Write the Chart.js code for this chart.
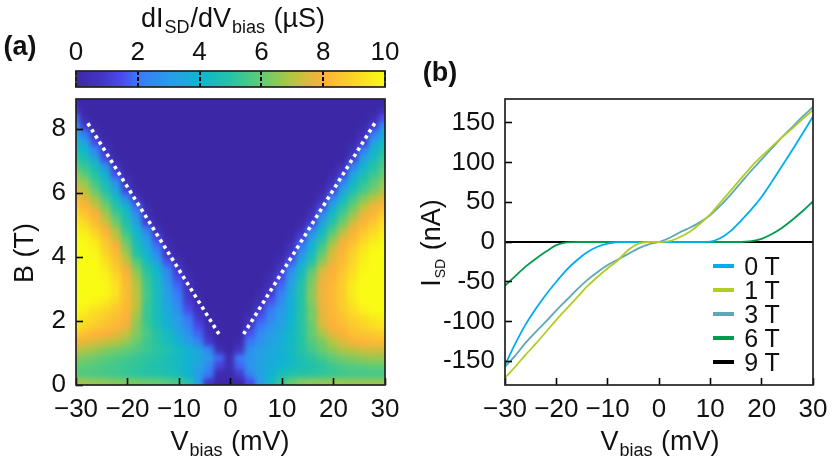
<!DOCTYPE html>
<html>
<head>
<meta charset="utf-8">
<script src="https://cdn.jsdelivr.net/npm/chart.js@4"></script>
<style>
body { margin: 0; background: #fff; }
#page { position: relative; width: 832px; height: 461px; overflow: hidden; font-family: "Liberation Sans", Arial, sans-serif; color: #111; }
canvas { position: absolute; left: 0; top: 0; }
.t { position: absolute; font-size: 27px; white-space: nowrap; transform: translate(-50%, -50%); }
.t b { font-size: 27px; }
.t span { font-size: 18px; position: relative; top: 6px; margin: 0 1px; }
.t span.small { font-size: 14px; top: 5px; }
.t.lg { font-size: 25px; }
.rot { transform: translate(-50%, -50%) rotate(-90deg); }
.key { position: absolute; left: 713px; width: 21px; height: 4px; }
</style>
</head>
<body>
<div id="page">
  <canvas id="bar" width="832" height="461"></canvas>
  <canvas id="heat" width="832" height="461"></canvas>
  <canvas id="iv" width="832" height="461"></canvas>
  <div class="t" style="left:233px;top:18px">dI<span>SD</span>/dV<span>bias</span> (µS)</div>
  <div class="t" style="left:20px;top:46px"><b>(a)</b></div>
  <div class="t" style="left:440px;top:72px"><b>(b)</b></div>
  <div class="t rot" style="left:24px;top:253px">B (T)</div>
  <div class="t rot" style="left:431px;top:243px">I<span class="small">SD</span> (nA)</div>
  <div class="t" style="left:230px;top:441px">V<span>bias</span> (mV)</div>
  <div class="t" style="left:660px;top:441px">V<span>bias</span> (mV)</div>
</div>
<script>
// colour bar
const barTicks = [0, 2, 4, 6, 8, 10];
const barColors = ['#3c28a6', '#4335c4', '#4b4bef', '#3a78fb', '#2a9be8', '#0fb5d0', '#25c3a5', '#62cc73', '#b5c540', '#fdb03a', '#f9fb14'];
const barLevels = [0, 0.8, 1.5, 2, 3, 4, 5, 6, 7, 8, 10];

// panel (a), conductance map
const vCols = [-30, -28, -26, -24, -22, -20, -18, -16, -14, -12, -10, -8, -6, -4, -2, 0, 2, 4, 6, 8, 10, 12, 14, 16, 18, 20, 22, 24, 26, 28, 30];
const bEdges = [0, 0.25, 0.5, 0.75, 1, 1.25, 1.5, 1.75, 2, 2.25, 2.5, 2.75, 3, 3.25, 3.5, 3.75, 4, 4.25, 4.5, 4.75, 5, 5.25, 5.5, 5.75, 6, 6.25, 6.5, 6.75, 7, 7.25, 7.5, 7.75, 8, 8.25, 8.5, 8.75, 9];
const conductance = [
  [6.8,6.7,6.6,6.5,6.4,6.3,6.2,6.1,6,5.8,5.5,4.8,3.2,.9,0,0,.1,1.5,3,4.2,5.2,6,6.4,6.5,6.5,6.6,6.6,6.6,6.6,6.6,6.6],
  [5.8,5.7,5.6,5.5,5.4,5.3,5.1,5,4.9,4.7,4.5,3.9,3,2.1,.2,.2,1,2.4,3.3,3.8,4.5,4.8,5,5.1,5.2,5.3,5.4,5.5,5.5,5.5,5.5],
  [6,5.9,5.8,5.6,5.5,5.3,5.2,5,4.8,4.6,4.3,3.9,3.3,2.5,1.2,.3,1.8,2.8,3.3,3.7,4,4.3,4.6,4.8,5.1,5.4,5.7,5.8,5.9,6,6],
  [6.4,6.3,6.1,5.9,5.7,5.5,5.3,5.1,4.9,4.6,4.3,3.9,3.5,2.9,1.8,.3,2,2.8,3.2,3.5,3.8,4.2,4.7,5.1,5.5,5.9,6.2,6.4,6.6,6.7,6.7],
  [7.1,6.9,6.7,6.4,6.2,6,5.7,5.4,5.1,4.8,4.4,3.9,3.4,2.4,.5,0,.8,2.7,3.2,3.5,3.8,4.3,4.9,5.5,6,6.5,6.9,7.1,7.3,7.4,7.4],
  [8,7.7,7.5,7.2,7,6.6,6,5.4,5,4.5,3.9,3.1,2.4,1,0,0,.2,2,2.7,3.2,3.6,4.2,4.9,5.7,6.3,7,7.5,7.9,8.1,8.3,8.3],
  [8.8,8.4,8.1,8,7.7,7.2,6.4,5.6,5,4.4,3.5,2.8,1.8,.5,0,0,0,1.6,2.5,3.1,3.6,4.2,5,6,6.8,7.6,8,8.4,8.5,8.7,8.8],
  [9.5,9,8.7,8.4,8.2,7.8,6.5,5.4,4.6,3.9,3.1,2.3,1.4,.3,0,0,0,.9,2,2.7,3.2,4.1,5,6,7.4,8,8.3,8.6,8.9,9.2,9.4],
  [9.7,9.3,9,8.7,8.4,8,6.7,5.3,4.5,3.7,3,2,.9,.1,0,0,0,.4,1.6,2.4,3.1,4,5,6.2,7.6,8.1,8.5,8.9,9.2,9.5,9.7],
  [10,9.7,9.3,9,8.6,8.2,7,5.3,4.4,3.5,2.7,1.5,.5,0,0,0,0,.1,1,2.1,2.9,3.8,5,6.2,7.7,8.2,8.7,9.2,9.7,10,10],
  [10,10,9.8,9.5,9,8.3,7.1,5.4,4.4,3.3,2.4,1.1,.2,0,0,0,0,0,.5,1.6,2.6,3.7,5,6.4,7.8,8.2,8.8,9.5,10,10,10],
  [10,10,10,9.9,9.3,8.3,7.1,5.5,4.4,3.1,2.1,.8,.1,0,0,0,0,0,.2,1,2.2,3.6,5,6.5,7.8,8.2,8.8,9.6,10,10,10],
  [10,10,10,9.9,9.3,8.3,7,5.4,4.3,3,1.8,.6,0,0,0,0,0,0,0,.6,1.8,3.3,4.9,6.4,7.8,8.2,8.8,9.6,10,10,10],
  [10,10,10,9.8,9.1,8.2,6.8,5.3,4.3,2.7,1.4,.3,0,0,0,0,0,0,0,.3,1.4,3,4.6,6.2,7.7,8.1,8.7,9.4,10,10,10],
  [10,10,10,9.6,8.8,7.9,6.4,5,4,2.3,1,.1,0,0,0,0,0,0,0,.1,.9,2.5,4.2,5.8,7.4,8,8.5,9.2,9.9,10,10],
  [10,10,10,9.3,8.5,7.3,5.8,4.5,3.3,1.6,.4,0,0,0,0,0,0,0,0,0,.4,1.7,3.5,5,6.6,7.7,8.3,9,9.7,10,10],
  [10,10,9.9,9,8.3,6.8,5,4,2.5,.8,.1,0,0,0,0,0,0,0,0,0,.1,.9,2.7,4.4,6,7.5,8.2,8.9,9.6,10,10],
  [10,10,9.7,8.7,8,6.3,4.6,3.6,1.9,.4,0,0,0,0,0,0,0,0,0,0,0,.5,2,3.9,5.4,7,8,8.6,9.3,9.8,10],
  [10,9.8,9.3,8.4,7.3,5.8,4.3,3,1.3,.1,0,0,0,0,0,0,0,0,0,0,0,.1,1.2,3.1,4.8,6.3,7.6,8.2,8.9,9.4,9.8],
  [9.9,9.5,8.8,8,6.8,5.2,3.9,2.2,.5,0,0,0,0,0,0,0,0,0,0,0,0,0,.5,2.2,4.1,5.6,6.8,7.9,8.5,9,9.5],
  [9.6,9,8.3,7.3,6.1,4.8,3.2,1,.1,0,0,0,0,0,0,0,0,0,0,0,0,0,.1,1,3.2,4.9,6.1,7.3,8.1,8.6,9.2],
  [9.2,8.5,8,6.8,5.5,4.4,2.5,.5,0,0,0,0,0,0,0,0,0,0,0,0,0,0,0,.5,2.3,4.2,5.5,6.6,7.7,8.2,8.7],
  [8.7,8.1,7.3,6.2,4.9,3.9,1.8,.2,0,0,0,0,0,0,0,0,0,0,0,0,0,0,0,.1,1.2,3.4,4.9,6,7,7.8,8.2],
  [8.2,7.6,6.7,5.5,4.3,2.4,.6,0,0,0,0,0,0,0,0,0,0,0,0,0,0,0,0,0,.4,2.2,4.2,5.4,6.3,7,7.6],
  [7.7,7,6,4.8,3.5,1.2,.1,0,0,0,0,0,0,0,0,0,0,0,0,0,0,0,0,0,.1,1.1,3.2,4.6,5.5,6.2,6.9],
  [7.2,6.5,5.4,4.4,2.6,.6,0,0,0,0,0,0,0,0,0,0,0,0,0,0,0,0,0,0,0,.5,2.2,4.1,5.1,5.8,6.5],
  [6.6,5.8,4.9,3.8,1.5,.2,0,0,0,0,0,0,0,0,0,0,0,0,0,0,0,0,0,0,0,.1,1.1,3.3,4.5,5.3,6],
  [5.9,5.2,4.4,2.6,.6,0,0,0,0,0,0,0,0,0,0,0,0,0,0,0,0,0,0,0,0,0,.4,2.2,3.9,4.9,5.7],
  [5.3,4.6,3.3,1.3,.1,0,0,0,0,0,0,0,0,0,0,0,0,0,0,0,0,0,0,0,0,0,0,1,3.1,4.4,5.3],
  [4.7,4,2.4,.6,0,0,0,0,0,0,0,0,0,0,0,0,0,0,0,0,0,0,0,0,0,0,0,.4,2.1,3.9,4.8],
  [4.2,3.2,1.4,.2,0,0,0,0,0,0,0,0,0,0,0,0,0,0,0,0,0,0,0,0,0,0,0,.1,1,3.2,4.2],
  [3.8,2,.5,0,0,0,0,0,0,0,0,0,0,0,0,0,0,0,0,0,0,0,0,0,0,0,0,0,.4,2,3.5],
  [3,1,.1,0,0,0,0,0,0,0,0,0,0,0,0,0,0,0,0,0,0,0,0,0,0,0,0,0,.1,1,2.6],
  [1.9,.3,0,0,0,0,0,0,0,0,0,0,0,0,0,0,0,0,0,0,0,0,0,0,0,0,0,0,0,.3,1.5],
  [.9,0,0,0,0,0,0,0,0,0,0,0,0,0,0,0,0,0,0,0,0,0,0,0,0,0,0,0,0,0,.5],
  [.2,0,0,0,0,0,0,0,0,0,0,0,0,0,0,0,0,0,0,0,0,0,0,0,0,0,0,0,0,0,0]
];
const gapLeftV = [-27.7, -2.2];
const gapRightV = [28, 2.5];
const gapB = [8.18, 1.58];
const heatXTicks = [-30, -20, -10, 0, 10, 20, 30];
const heatYTicks = [0, 2, 4, 6, 8];

// panel (b), I-V curves
const vBias = [-30, -28, -26, -24, -22, -20, -18, -16, -14, -12, -10, -8, -6, -4, -2, 0, 2, 4, 6, 8, 10, 12, 14, 16, 18, 20, 22, 24, 26, 28, 30];
const i0T = [-155,-128,-104,-84,-66,-50,-35,-23,-13,-6,-2,0,0,0,0,0,0,0,0,0,.5,5,14,27,41,57,76,96,116,137,158];
const i1T = [-171,-157,-142,-128,-113,-98,-84,-70,-56,-44,-33,-23,-10,-2,0,0,1,6,13,23,35,50,65,80,95,108,120,132,143,155,166];
const i3T = [-157,-143,-127,-113,-100,-86,-73,-60,-48,-38,-29,-22,-15,-8,-3,0,5,12,18,25,34,46,60,75,90,104,118,132,145,158,170];
const i6T = [-55,-43,-31,-21,-12,-4,-.5,0,0,0,0,0,0,0,0,0,0,0,0,0,0,0,0,0,1,4,10,18,28,39,51];
const i9T = [0,0,0,0,0,0,0,0,0,0,0,0,0,0,0,0,0,0,0,0,0,0,0,0,0,0,0,0,0,0,0];
const ivNames = ['0 T', '1 T', '3 T', '6 T', '9 T'];
const ivColors = ['#00aeef', '#b2cc23', '#5ba8b7', '#009b4e', '#000000'];
const ivYTicks = [-150, -100, -50, 0, 50, 100, 150];
const ivXTicks = [-30, -20, -10, 0, 10, 20, 30];

function hex(c) {
  return [1, 3, 5].map(i => parseInt(c.substr(i, 2), 16));
}

function colorOf(v) {
  for (let i = 1; i < barLevels.length; i++) {
    if (v <= barLevels[i]) {
      const f = (v - barLevels[i - 1]) / (barLevels[i] - barLevels[i - 1]);
      const a = hex(barColors[i - 1]), b = hex(barColors[i]);
      return 'rgb(' + a.map((p, k) => Math.round(p + (b[k] - p) * f)).join(',') + ')';
    }
  }
  return barColors[barColors.length - 1];
}

const tickFont = { family: '"Liberation Sans", Arial, sans-serif', size: 26 };
const minusSign = v => String(v).replace('-', '\u2212');

// plot frame on top of everything
const frame = {
  id: 'frame',
  afterDraw(chart) {
    const a = chart.chartArea, ctx = chart.ctx;
    ctx.save();
    ctx.strokeStyle = '#222';
    ctx.lineWidth = 1.7;
    ctx.strokeRect(a.left, a.top, a.right - a.left, a.bottom - a.top);
    ctx.restore();
  }
};

// soften the map cells a little, the original is finely sampled
const soften = {
  id: 'soften',
  afterDatasetDraw(chart, args) {
    if (args.index !== 0) return;
    const a = chart.chartArea, w = a.right - a.left, h = a.bottom - a.top;
    const off = document.createElement('canvas');
    off.width = chart.width;
    off.height = chart.height;
    off.getContext('2d').drawImage(chart.canvas, a.left, a.top, w, h, a.left, a.top, w, h);
    const ctx = chart.ctx;
    ctx.save();
    ctx.beginPath();
    ctx.rect(a.left, a.top, w, h);
    ctx.clip();
    ctx.filter = 'blur(2.5px)';
    ctx.drawImage(off, 0, 0);
    ctx.restore();
  }
};

function axis(min, max, ticks, side, pad, size) {
  return {
    type: 'linear',
    position: side,
    min: min,
    max: max,
    offset: false,
    border: { display: false },
    grid: { offset: false, drawOnChartArea: false, tickLength: -7, tickWidth: 1.6, tickColor: '#000', z: 1 },
    ticks: { autoSkip: false, maxRotation: 0, color: '#111', font: tickFont, padding: pad, callback: minusSign },
    afterBuildTicks(s) { s.ticks = ticks.map(v => ({ value: v })); },
    afterFit(s) {
      if (side === 'left') s.width = size; else s.height = size;
      // plot box is pinned, labels may hang over its ends
      s.paddingLeft = s.paddingRight = s.paddingTop = s.paddingBottom = 0;
    }
  };
}

// colour bar, one bar with the colour map as gradient
const barCtx = document.getElementById('bar').getContext('2d');
const grad = barCtx.createLinearGradient(76, 0, 385, 0);
barLevels.forEach((l, i) => grad.addColorStop(l / 10, barColors[i]));
const barX = axis(0, 10, barTicks, 'top', 3, 71);
barX.grid = { drawTicks: false, color: '#000', lineWidth: 2, z: 1 };
barX.border = { display: false, dash: [4, 2] };
new Chart(barCtx, {
  type: 'bar',
  data: { labels: [''], datasets: [{ data: [[0, 10]], backgroundColor: grad, barPercentage: 1, categoryPercentage: 1 }] },
  options: {
    indexAxis: 'y',
    responsive: false,
    animation: false,
    events: [],
    layout: { padding: { left: 76, right: 447, top: 0, bottom: 374 } },
    plugins: { legend: { display: false }, tooltip: { enabled: false } },
    scales: { x: barX, y: { display: false } }
  },
  plugins: [frame]
});

// panel (a)
const cells = [], cellColors = [];
conductance.forEach((row, r) => {
  row.forEach((g, c) => {
    cells.push({ x: vCols[c], y: [bEdges[r], bEdges[r + 1]] });
    cellColors.push(colorOf(g));
  });
});
const dots = { type: 'line', borderColor: '#fff', borderWidth: 3.6, borderDash: [3.4, 3.8], pointRadius: 0, order: 0 };
new Chart(document.getElementById('heat'), {
  type: 'bar',
  data: {
    datasets: [
      { data: cells, backgroundColor: cellColors, barThickness: 11, inflateAmount: 1, order: 5 },
      Object.assign({ data: gapLeftV.map((v, i) => ({ x: v, y: gapB[i] })) }, dots),
      Object.assign({ data: gapRightV.map((v, i) => ({ x: v, y: gapB[i] })) }, dots)
    ]
  },
  options: {
    responsive: false,
    animation: false,
    events: [],
    layout: { padding: { left: 0, right: 447, top: 99, bottom: 0 } },
    plugins: { legend: { display: false }, tooltip: { enabled: false } },
    scales: {
      x: axis(-30, 30, heatXTicks, 'bottom', 16, 76),
      y: axis(0, 8.94, heatYTicks, 'left', 17, 76)
    }
  },
  plugins: [soften, frame]
});

// panel (b), blue sits under 1 T and 3 T, black at the very bottom
const ivSeries = [i0T, i1T, i3T, i6T, i9T];
const ivOrder = [2, 0, 1, 3, 4];
const ivY = axis(-180, 180, ivYTicks, 'left', 17, 505);
ivY.ticks.callback = v => String(v);
new Chart(document.getElementById('iv'), {
  type: 'line',
  data: {
    datasets: ivSeries.map((s, k) => ({
      label: ivNames[k],
      data: s.map((y, i) => ({ x: vBias[i], y: y })),
      borderColor: ivColors[k],
      borderWidth: 1.8,
      pointRadius: 0,
      cubicInterpolationMode: 'monotone',
      order: ivOrder[k]
    }))
  },
  options: {
    responsive: false,
    animation: false,
    events: [],
    layout: { padding: { left: 0, right: 19, top: 99, bottom: 0 } },
    plugins: { legend: { display: false }, tooltip: { enabled: false } },
    scales: {
      x: axis(-30, 30, ivXTicks, 'bottom', 16, 76),
      y: ivY
    }
  },
  plugins: [frame]
});

// legend of panel (b)
const page = document.getElementById('page');
ivNames.forEach((n, k) => {
  const y = 266 + 24 * k;
  const key = document.createElement('div');
  key.className = 'key';
  key.style.top = (y - 2) + 'px';
  key.style.background = ivColors[k];
  page.appendChild(key);
  const txt = document.createElement('div');
  txt.className = 't lg';
  txt.style.left = '762px';
  txt.style.top = y + 'px';
  txt.textContent = n;
  page.appendChild(txt);
});
</script>
</body>
</html>
